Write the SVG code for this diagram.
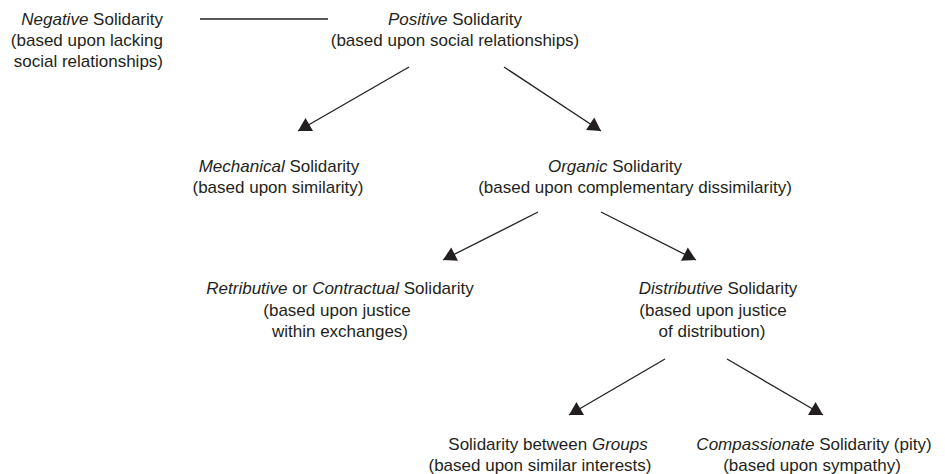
<svg xmlns="http://www.w3.org/2000/svg" width="945" height="474" viewBox="0 0 945 474">
<defs>
<style>
text{font-family:"Liberation Sans",Arial,sans-serif;font-size:17px;fill:#231f20}
.c{text-anchor:middle}
.e{text-anchor:end}
.i{font-style:italic}
.ln{stroke:#231f20;stroke-width:1.3;fill:none}
</style>
<marker id="ah" markerUnits="userSpaceOnUse" markerWidth="16" markerHeight="16" viewBox="-14 -8 16 16" refX="0" refY="0" orient="auto">
<path d="M0,0 L-13,-7.5 L-13,7.5 Z" fill="#231f20"/>
</marker>
</defs>
<rect width="945" height="474" fill="#fff"/>
<g id="negative">
<text class="e" x="163" y="25"><tspan class="i">Negative</tspan> Solidarity</text>
<text class="e" x="163" y="46">(based upon lacking</text>
<text class="e" x="163" y="67">social relationships)</text>
</g>
<g id="positive">
<text class="c" x="455" y="25"><tspan class="i">Positive</tspan> Solidarity</text>
<text class="c" x="455" y="46">(based upon social relationships)</text>
</g>
<g id="mechanical">
<text class="c" x="279" y="172"><tspan class="i">Mechanical</tspan> Solidarity</text>
<text class="c" x="278" y="193">(based upon similarity)</text>
</g>
<g id="organic">
<text class="c" x="615" y="172"><tspan class="i">Organic</tspan> Solidarity</text>
<text class="c" x="635" y="193">(based upon complementary dissimilarity)</text>
</g>
<g id="retributive">
<text class="c" x="340" y="294"><tspan class="i">Retributive</tspan> or <tspan class="i">Contractual</tspan> Solidarity</text>
<text class="c" x="337" y="316">(based upon justice</text>
<text class="c" x="340" y="337">within exchanges)</text>
</g>
<g id="distributive">
<text class="c" x="718" y="294"><tspan class="i">Distributive</tspan> Solidarity</text>
<text class="c" x="713" y="316">(based upon justice</text>
<text class="c" x="712" y="337">of distribution)</text>
</g>
<g id="groups">
<text class="c" x="548" y="450">Solidarity between <tspan class="i">Groups</tspan></text>
<text class="c" x="540" y="471">(based upon similar interests)</text>
</g>
<g id="compassionate">
<text class="c" x="814" y="450"><tspan class="i">Compassionate</tspan> Solidarity (pity)</text>
<text class="c" x="812" y="471">(based upon sympathy)</text>
</g>
<g id="connectors">
<line class="ln" x1="200" y1="19" x2="328" y2="19"/>
<line class="ln" x1="409" y1="67" x2="298" y2="131" marker-end="url(#ah)"/>
<line class="ln" x1="504" y1="67" x2="601" y2="131" marker-end="url(#ah)"/>
<line class="ln" x1="538" y1="212" x2="443" y2="260" marker-end="url(#ah)"/>
<line class="ln" x1="601" y1="212" x2="696" y2="260" marker-end="url(#ah)"/>
<line class="ln" x1="665" y1="359" x2="569" y2="415" marker-end="url(#ah)"/>
<line class="ln" x1="727" y1="359" x2="823" y2="415" marker-end="url(#ah)"/>
</g>
</svg>
